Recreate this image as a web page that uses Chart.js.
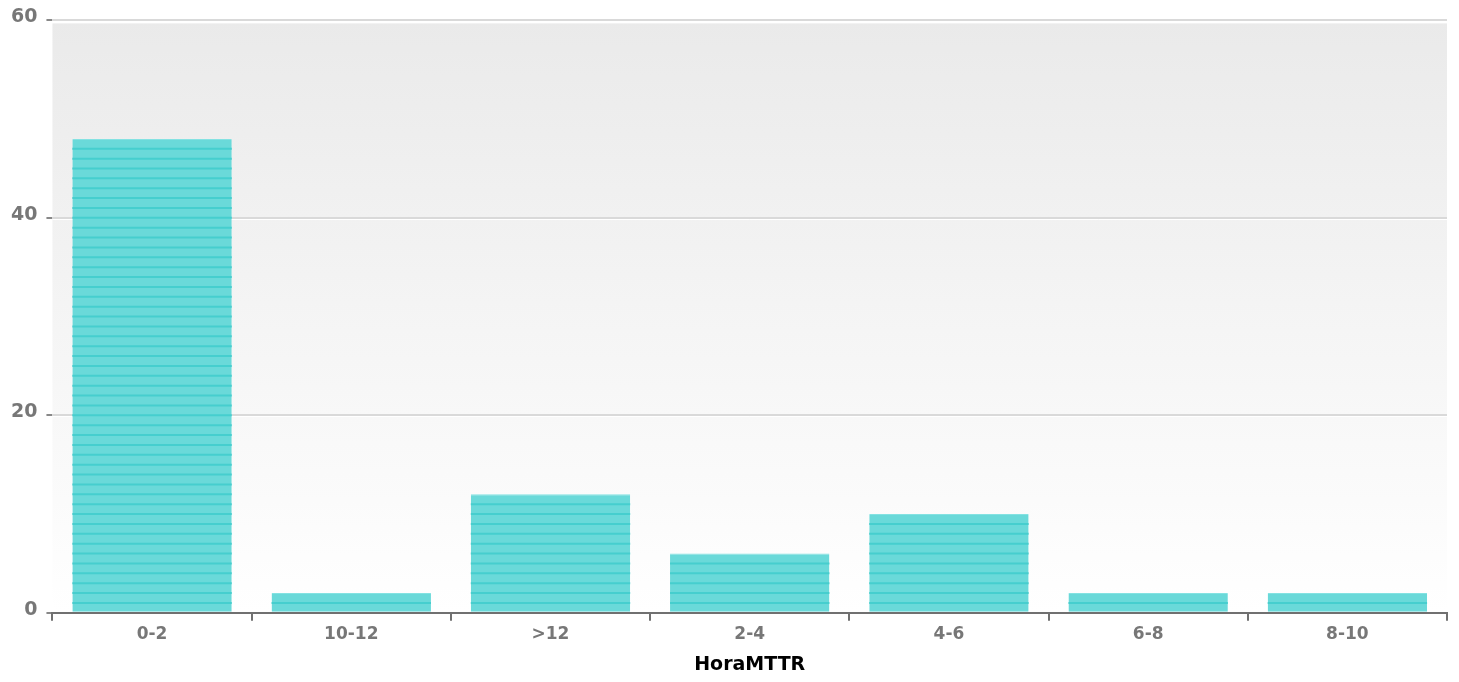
<!DOCTYPE html>
<html>
<head>
<meta charset="utf-8">
<script src="https://cdn.jsdelivr.net/npm/chart.js@4/dist/chart.umd.min.js"></script>
<style>
  html, body { margin: 0; padding: 0; background: #ffffff; }
  #wrap { width: 1459px; height: 682px; position: relative; }
</style>
</head>
<body>
<div id="wrap"><canvas id="c"></canvas></div>
<script>
const categories = ['0-2', '10-12', '>12', '2-4', '4-6', '6-8', '8-10'];
const counts = [48, 2, 12, 6, 10, 2, 2];
const yTicks = [0, 20, 40, 60];
const xTitle = 'HoraMTTR';

const bgPlugin = {
  id: 'bgGradient',
  beforeDraw(chart) {
    const { ctx, chartArea: a } = chart;
    const g = ctx.createLinearGradient(0, a.top, 0, a.bottom);
    g.addColorStop(0, '#eaeaea');
    g.addColorStop(1, '#ffffff');
    ctx.save();
    ctx.fillStyle = g;
    ctx.fillRect(a.left, a.top + 3, a.right - a.left, a.bottom - a.top - 3);
    ctx.restore();
  },
  beforeDatasetsDraw(chart) {
    const { ctx, chartArea: a, scales: { y } } = chart;
    ctx.save();
    ctx.strokeStyle = '#ffffff';
    ctx.lineWidth = 1;
    yTicks.forEach(v => {
      if (v === 0) return;
      const py = Math.round(y.getPixelForValue(v)) + 1.5;
      ctx.beginPath();
      ctx.moveTo(a.left, py);
      ctx.lineTo(a.right, py);
      ctx.stroke();
    });
    ctx.restore();
  },
  afterDatasetsDraw(chart) {
    const { ctx, scales: { y } } = chart;
    const meta = chart.getDatasetMeta(0);
    ctx.save();
    ctx.strokeStyle = '#46cece';
    ctx.lineWidth = 2;
    meta.data.forEach((bar, i) => {
      const v = counts[i];
      const half = bar.width / 2;
      for (let k = 1; k < v; k++) {
        const py = y.getPixelForValue(k);
        ctx.beginPath();
        ctx.moveTo(bar.x - half, py);
        ctx.lineTo(bar.x + half, py);
        ctx.stroke();
      }
    });
    ctx.restore();
  }
};

new Chart(document.getElementById('c'), {
  type: 'bar',
  data: {
    labels: categories,
    datasets: [{
      data: counts,
      backgroundColor: '#6ad9d9',
      borderColor: '#84e2e2',
      borderWidth: { top: 1, left: 0, right: 0, bottom: 0 },
      borderSkipped: 'bottom',
      barPercentage: 1,
      categoryPercentage: 0.8
    }]
  },
  options: {
    responsive: true,
    maintainAspectRatio: false,
    animation: false,
    layout: { padding: { left: 2, right: 12, top: 6, bottom: 6 } },
    plugins: { legend: { display: false }, tooltip: { enabled: false } },
    scales: {
      x: {
        grid: {
          display: true,
          drawOnChartArea: false,
          drawTicks: true,
          tickLength: 8,
          color: '#707070',
          lineWidth: 2,
          offset: true
        },
        border: { display: true, color: '#707070', width: 2 },
        ticks: {
          color: '#777777',
          font: { family: 'DejaVu Sans', size: 17, weight: 'bold' },
          padding: 4
        },
        title: {
          display: true,
          text: xTitle,
          color: '#000000',
          font: { family: 'DejaVu Sans', size: 19, weight: 'bold' },
          padding: { top: 4, bottom: 0 }
        }
      },
      y: {
        min: 0,
        max: 60,
        afterBuildTicks(scale) { scale.ticks = yTicks.map(v => ({ value: v })); },
        grid: {
          color: '#d9d9d9',
          lineWidth: 2,
          tickColor: '#888888',
          tickLength: 6,
          drawTicks: true
        },
        border: { display: false },
        ticks: {
          color: '#777777',
          font: { family: 'DejaVu Sans', size: 19, weight: 'bold' },
          padding: 9,
          labelOffset: -3
        }
      }
    }
  },
  plugins: [bgPlugin]
});
</script>
</body>
</html>
